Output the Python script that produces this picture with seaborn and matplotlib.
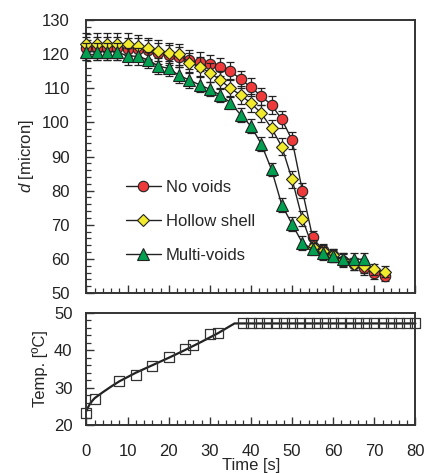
import numpy as np
import pandas as pd
import seaborn as sns
import matplotlib.pyplot as plt
from matplotlib.ticker import MultipleLocator

# time points of the size measurements [s]
time = [0, 2.5, 5, 7.5, 10, 12.5, 15, 17.5, 20, 22.5, 25, 27.5, 30, 32.5, 35,
        37.5, 40, 42.5, 45, 47.5, 50, 52.5, 55, 57.5, 60, 62.5, 65, 67.5, 70, 72.5]

# droplet diameter [micron]
d_no_voids = [121.7, 121.7, 121.7, 121.7, 121.5, 121.4, 121.2, 120.2, 119.7, 119.2,
              118.3, 117.8, 117.1, 116.3, 115.1, 112.6, 110.3, 107.7, 105.1, 100.9,
              94.8, 80.0, 66.3, 62.5, 61.2, 59.5, 58.5, 57.2, 55.8, 55.0]
d_hollow = [122.9, 122.9, 122.9, 122.9, 123.0, 122.4, 121.7, 121.0, 120.4, 119.9,
            117.5, 116.3, 114.6, 112.4, 110.0, 108.0, 105.6, 102.7, 98.3, 92.9,
            83.3, 71.7, 63.5, 62.3, 61.0, 59.8, 58.5, 57.8, 56.9, 56.2]
d_multi = [120.7, 120.7, 120.7, 120.7, 119.4, 119.4, 118.3, 116.5, 115.8, 113.8,
           112.4, 111.0, 109.7, 108.0, 105.8, 102.2, 98.9, 93.7, 86.2, 75.8,
           70.2, 64.7, 62.8, 61.6, 60.9, 59.9, 59.9, 59.9]

# error bars (+/-)
err_no_voids = [3.3, 3.3, 3.3, 3.3, 3.2, 3.2, 3.0, 3.0, 3.0, 3.0,
                2.8, 2.8, 2.7, 2.7, 2.7, 2.6, 2.6, 2.5, 2.5, 2.5,
                2.5, 2.2, 2.0, 1.8, 1.8, 1.8, 1.8, 1.8, 1.6, 1.6]
err_hollow = [3.3, 3.3, 3.3, 3.3, 3.2, 3.2, 3.0, 3.0, 3.0, 3.0,
              2.8, 2.8, 2.7, 2.7, 2.7, 2.6, 2.6, 2.5, 2.5, 2.5,
              2.5, 2.2, 2.0, 1.8, 1.8, 1.8, 1.8, 1.8, 1.6, 1.6]
err_multi = [2.5, 2.5, 2.5, 2.5, 2.5, 2.5, 2.4, 2.4, 2.3, 2.3,
             2.2, 2.2, 2.1, 2.1, 2.0, 2.0, 2.0, 2.0, 2.0, 2.0,
             2.0, 2.0, 1.8, 1.8, 1.8, 1.8, 1.8, 1.8]

# temperature measurements [deg C]
t_temp = [0, 2, 8, 12, 16, 20, 24, 26, 30, 32,
          38, 40, 42, 44, 46, 48, 50, 52, 54, 56, 58, 60,
          62, 64, 66, 68, 70, 72, 74, 76, 78, 80]
temp = [23.3, 27.0, 31.9, 33.4, 35.8, 38.1, 40.3, 41.4, 44.4, 44.7,
        47.2, 47.2, 47.2, 47.2, 47.2, 47.2, 47.2, 47.2, 47.2, 47.2, 47.2, 47.2,
        47.2, 47.2, 47.2, 47.2, 47.2, 47.2, 47.2, 47.2, 47.2, 47.2]
# fitted temperature curve
t_fit = [0, 0.5, 1, 1.5, 2, 3, 4, 6, 8, 12, 16, 20, 24, 28, 32, 36, 80]
temp_fit = [23.8, 25.0, 25.9, 26.6, 27.2, 28.0, 28.8, 30.3, 31.7, 34.0,
            36.0, 38.0, 40.1, 42.3, 44.6, 47.2, 47.2]

sns.set_style('white')
plt.rcParams['font.family'] = ['Liberation Sans', 'DejaVu Sans']
plt.rcParams['mathtext.fontset'] = 'custom'
plt.rcParams['mathtext.it'] = 'Liberation Sans:italic'
plt.rcParams['mathtext.rm'] = 'Liberation Sans'

fig = plt.figure(figsize=(4.25, 4.73), dpi=100)
ax1 = fig.add_axes([0.2035, 0.3805, 0.774, 0.5772])
ax2 = fig.add_axes([0.2035, 0.1015, 0.774, 0.2368])

series = [
    ('No voids', d_no_voids, err_no_voids, 'o', '#ee3a3a', 7.5),
    ('Hollow shell', d_hollow, err_hollow, 'D', '#f2ea2c', 6.5),
    ('Multi-voids', d_multi, err_multi, '^', '#00a050', 8.5),
]
for i, (name, d, err, mk, col, ms) in enumerate(series):
    tt = time[:len(d)]
    ax1.errorbar(tt, d, yerr=err, fmt='none', ecolor='#222222', elinewidth=0.9,
                 capsize=3, capthick=0.9, zorder=2 + i)
    sns.lineplot(x=tt, y=d, ax=ax1, color='#222222', linewidth=1.0, marker=mk,
                 markersize=ms, markerfacecolor=col, markeredgecolor='#222222',
                 markeredgewidth=0.8, label=name, zorder=2.5 + i)

ax1.set_xlim(0, 80)
ax1.set_ylim(50, 130)
ax1.xaxis.set_major_locator(MultipleLocator(10))
ax1.xaxis.set_minor_locator(MultipleLocator(2))
ax1.yaxis.set_major_locator(MultipleLocator(10))
ax1.yaxis.set_minor_locator(MultipleLocator(2))
ax1.set_xticklabels([])
ax1.set_ylabel(r'$d$ [micron]', fontsize=12, labelpad=4)
ax1.legend(loc='upper left', bbox_to_anchor=(0.12, 0.415), frameon=False,
           fontsize=12, handlelength=2.1, handletextpad=0.3, labelspacing=1.15,
           borderpad=0, borderaxespad=0)

# temperature panel
sns.lineplot(x=t_fit, y=temp_fit, ax=ax2, color='#222222', linewidth=1.6)
sns.scatterplot(x=t_temp, y=temp, ax=ax2, marker='s', s=52, facecolor='none',
                edgecolor='#333333', linewidth=0.9, zorder=3)
ax2.set_xlim(0, 80)
ax2.set_ylim(20, 50)
ax2.xaxis.set_major_locator(MultipleLocator(10))
ax2.xaxis.set_minor_locator(MultipleLocator(2))
ax2.yaxis.set_major_locator(MultipleLocator(10))
ax2.yaxis.set_minor_locator(MultipleLocator(2))
ax2.set_ylabel('Temp. [ºC]', fontsize=12, labelpad=4)
ax2.set_xlabel('Time [s]', fontsize=12, labelpad=-1)

for ax in (ax1, ax2):
    for s in ax.spines.values():
        s.set_visible(True)
        s.set_color('#333333')
        s.set_linewidth(1.4)
    ax.tick_params(which='both', direction='in', bottom=True, left=True,
                   top=False, right=False, color='#333333', labelsize=12,
                   labelcolor='#222222')
    ax.tick_params(which='major', length=6, width=1.0)
    ax.tick_params(which='minor', length=3.5, width=0.9)
    for clip in ax.get_children():
        clip.set_clip_on(False)

ax1.tick_params(axis='y', pad=12)
ax2.tick_params(axis='y', pad=10)
ax2.tick_params(axis='x', pad=14)

fig.savefig('out.png', dpi=100)
